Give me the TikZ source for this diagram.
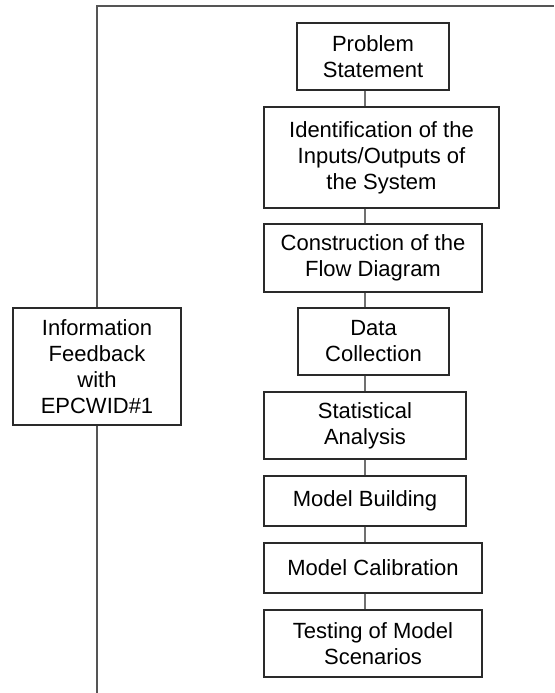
\documentclass[tikz,border=0pt]{standalone}
\usepackage{fontspec}
\setmainfont{Liberation Sans}
\definecolor{boxline}{HTML}{2A2A2A}
\definecolor{conn}{HTML}{707070}
\begin{document}
\begin{tikzpicture}[x=1pt,y=-1pt,
  stepbox/.style={draw=boxline,line width=1.3pt,align=center,inner sep=0pt,
    font=\fontsize{22}{26}\selectfont},
  link/.style={draw=conn,line width=1.3pt},
  frame/.style={draw=boxline!80,line width=1.4pt}]
\useasboundingbox (0,0) rectangle (554,693);
\node[stepbox,minimum width=152pt,minimum height=67pt] (ps) at (373,56.5) {Problem\\Statement};
\node[stepbox,minimum width=235pt,minimum height=101pt] (io) at (381.5,157.5) {Identification of the\\Inputs/Outputs of\\the System};
\node[stepbox,minimum width=218pt,minimum height=68pt] (cf) at (373,258) {Construction of the\\Flow Diagram};
\node[stepbox,minimum width=151pt,minimum height=67pt] (dc) at (373.5,341.5) {Data\\Collection};
\node[stepbox,minimum width=202pt,minimum height=67pt] (sa) at (365,425.5) {Statistical\\Analysis};
\node[stepbox,minimum width=202pt,minimum height=50pt] (mb) at (365,501) {Model Building};
\node[stepbox,minimum width=218pt,minimum height=50pt] (mc) at (373,568) {Model Calibration};
\node[stepbox,minimum width=218pt,minimum height=67pt] (tm) at (373,643.5) {Testing of Model\\Scenarios};
\node[stepbox,minimum width=168pt,minimum height=117pt] (info) at (97,366.5) {Information\\Feedback\\with\\EPCWID\#1};
\coordinate (spine) at (365,0);
\coordinate (top) at (97,6);
\coordinate (topright) at (554,6);
\coordinate (bottom) at (97,693);
\draw[link] (ps.south -| spine) -- (io.north -| spine);
\draw[link] (io.south -| spine) -- (cf.north -| spine);
\draw[link] (cf.south -| spine) -- (dc.north -| spine);
\draw[link] (dc.south -| spine) -- (sa.north -| spine);
\draw[link] (sa.south -| spine) -- (mb.north -| spine);
\draw[link] (mb.south -| spine) -- (mc.north -| spine);
\draw[link] (mc.south -| spine) -- (tm.north -| spine);
\draw[frame] (info.north -| top) -- (top) -- (topright);
\draw[frame] (info.south -| top) -- (bottom);
\end{tikzpicture}
\end{document}
